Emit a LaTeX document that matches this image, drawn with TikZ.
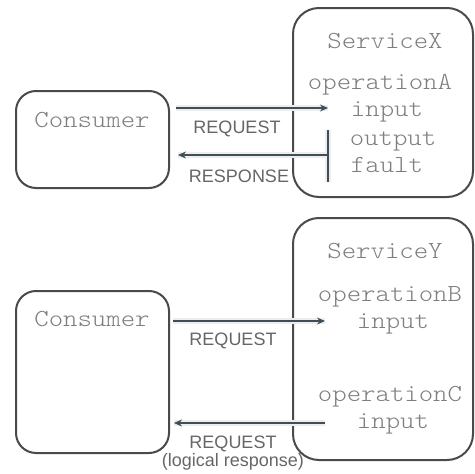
\documentclass[tikz,border=0pt]{standalone}
\usepackage{fontspec}
\setmainfont{Liberation Sans}
\newfontfamily\monof{lmmonolt10-regular.otf}[FakeStretch=1.12]
\usetikzlibrary{arrows.meta}
\definecolor{boxc}{HTML}{4A4A4A}
\definecolor{monoc}{HTML}{7E7E7E}
\definecolor{labc}{HTML}{666666}
\definecolor{arrc}{HTML}{3E4F59}
\begin{document}
\begin{tikzpicture}[x=1pt,y=-1pt,
  box/.style={draw=boxc,line width=2pt,rounded corners=20pt,inner sep=0pt},
  mono/.style={font=\monof\fontsize{24.5}{24}\selectfont,text=monoc,inner sep=0pt,anchor=base},
  lab/.style={font=\fontsize{18}{19}\selectfont,text=labc,inner sep=0pt,anchor=base,align=center},
  glow/.style={draw=black!7,line width=6pt},
  arr/.style={draw=arrc,line width=2.2pt,-{Stealth[length=8pt,width=7pt]}}]
\useasboundingbox (0,0) rectangle (475,474);
% top
\node[box,minimum width=153pt,minimum height=97pt] (c1) at (92.5,139.5) {};
\node[mono] (c1t) at (92,127) {Consumer};
\node[box,rounded corners=26pt,minimum width=180pt,minimum height=189pt] (sx) at (383,102.5) {};
\node[mono] (sxt) at (385,48) {ServiceX};
\node[mono] (opA) at (380,89) {operationA};
\node[mono] (inA) at (387,116) {input};
\node[mono] (outA) at (393,145) {output};
\node[mono] (fltA) at (387,172) {fault};
\coordinate (r1e) at (328,108);
\coordinate (bar1) at (328,155);
\coordinate (bar1t) at (328,130);
\coordinate (bar1b) at (328,182);
\draw[glow] ([xshift=6pt]c1.east |- r1e) -- (r1e);
\draw[glow] (bar1t) -- (bar1b);
\draw[glow] (bar1) -- ([xshift=8pt]c1.east |- bar1);
\draw[arr] ([xshift=6pt]c1.east |- r1e) -- (r1e);
\draw[draw=arrc,line width=2.2pt] (bar1t) -- (bar1b);
\draw[arr] (bar1) -- ([xshift=8pt]c1.east |- bar1);
\node[lab] (req1) at (237,133) {REQUEST};
\node[lab] (resp1) at (239,182) {RESPONSE};
% bottom
\node[box,minimum width=153pt,minimum height=162pt] (c2) at (92.5,372) {};
\node[mono] (c2t) at (92,326) {Consumer};
\node[box,rounded corners=26pt,minimum width=180pt,minimum height=242pt] (sy) at (383,339) {};
\node[mono] (syt) at (385,258) {ServiceY};
\node[mono] (opB) at (390,301) {operationB};
\node[mono] (inB) at (393,328) {input};
\node[mono] (opC) at (390,401) {operationC};
\node[mono] (inC) at (393,428) {input};
\coordinate (r2e) at (325,321);
\coordinate (r3s) at (325,423);
\draw[glow] ([xshift=3pt]c2.east |- r2e) -- (r2e);
\draw[glow] (r3s) -- ([xshift=4pt]c2.east |- r3s);
\draw[arr] ([xshift=3pt]c2.east |- r2e) -- (r2e);
\draw[arr] (r3s) -- ([xshift=4pt]c2.east |- r3s);
\node[lab] (req2) at (233,345) {REQUEST};
\node[lab] (req3) at (233,448) {REQUEST};
\node[lab] (lr) at (233,466) {(logical response)};
\end{tikzpicture}
\end{document}
